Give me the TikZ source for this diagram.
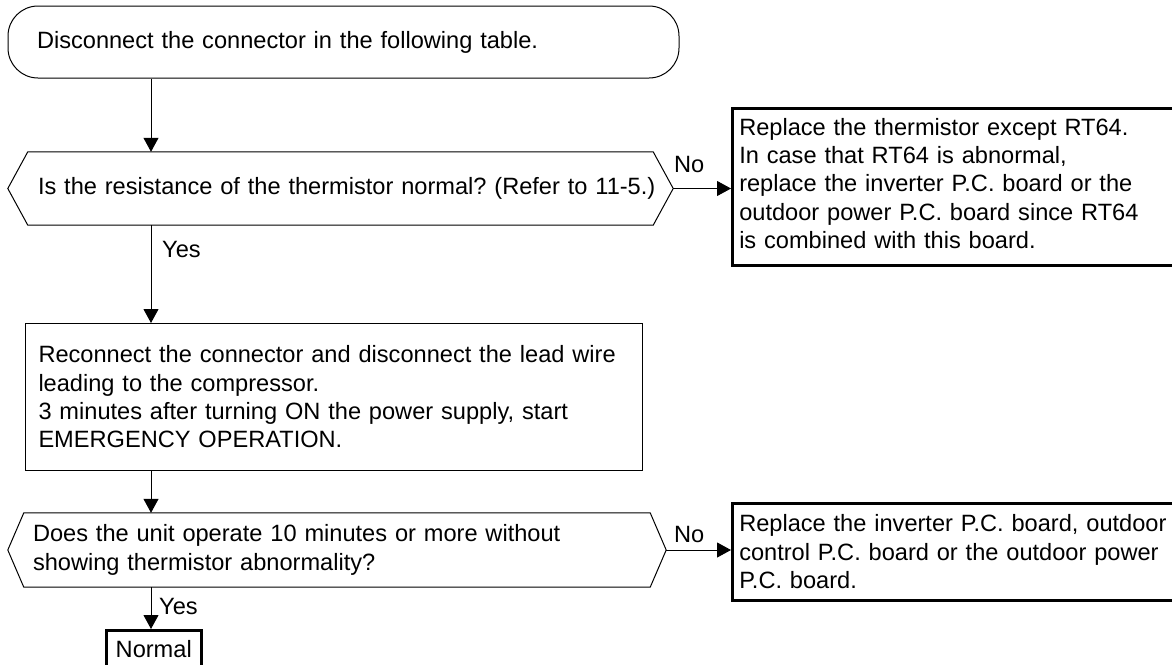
\documentclass[tikz,border=0pt]{standalone}
\usepackage{fontspec}
\setmainfont{Liberation Sans}
\usetikzlibrary{arrows.meta}
\begin{document}
\frenchspacing
\begin{tikzpicture}[x=1pt,y=-1pt,
  every node/.style={font=\fontsize{23.6}{28.3}\selectfont\frenchspacing, inner sep=0pt},
  arr/.style={line width=1pt, -{Triangle[length=14pt,width=15pt]}},
  termbox/.style={draw, line width=1pt, rounded corners=30pt, minimum height=72pt,
    inner xsep=29pt, text width=613pt, align=left},
  decbox/.style={minimum height=73pt, align=left},
  procbox/.style={draw, line width=1pt, anchor=north west, align=left},
  actbox/.style={draw, line width=2.5pt, anchor=north west, inner xsep=7pt,
    text width=470pt, align=left},
  lbl/.style={anchor=base west}
]
\clip (0,0) rectangle (1172,664);
\fill[white] (0,0) rectangle (1172,664);
\coordinate (col) at (151,0);

% start terminator
\node[termbox] (start) at (343.5,42) {Disconnect the connector in the following table.};

% decision 1
\node[decbox, inner xsep=30pt, text width=605pt] (q1) at (340.5,188.5)
  {\mbox{Is the resistance of the thermistor normal? (Refer to 11-5.)}};
\draw[line width=1pt] (q1.west) -- ([xshift=20pt]q1.north west) -- ([xshift=-20pt]q1.north east)
  -- (q1.east) -- ([xshift=-20pt]q1.south east) -- ([xshift=20pt]q1.south west) -- cycle;

% action 1
\node[actbox, minimum height=157pt] (r1) at (731,107)
  {Replace the thermistor except RT64.\\
   In case that RT64 is abnormal,\\
   replace the inverter P.C. board or the\\
   outdoor power P.C. board since RT64\\
   is combined with this board.\rule[-7pt]{0pt}{7pt}};

% process box
\node[procbox, minimum height=147pt, inner xsep=13.5pt, text width=590pt] (p1) at (24.5,323)
  {Reconnect the connector and disconnect the lead wire\\
   leading to the compressor.\\
   3 minutes after turning ON the power supply, start\\
   EMERGENCY OPERATION.};

% decision 2
\node[decbox, minimum height=74pt, inner xsep=25pt, text width=608pt] (q2) at (337,550)
  {Does the unit operate 10 minutes or more without\\
   showing thermistor abnormality?};
\draw[line width=1pt] (q2.west) -- ([xshift=16pt]q2.north west) -- ([xshift=-16pt]q2.north east)
  -- (q2.east) -- ([xshift=-16pt]q2.south east) -- ([xshift=16pt]q2.south west) -- cycle;

% action 2
\node[actbox, minimum height=97pt] (r2) at (731,502)
  {Replace the inverter P.C. board, outdoor\\
   control P.C. board or the outdoor power\\
   P.C. board.};

% normal
\node[draw, line width=2.5pt, anchor=north west, minimum width=95pt, minimum height=37pt] (ok) at (105,629) {Normal};

% connectors
\draw[arr] (start.south -| col) -- (q1.north -| col);
\draw[arr] (q1.east) -- (r1.west |- q1.east);
\draw[arr] (q1.south -| col) -- (p1.north -| col);
\draw[arr] (p1.south -| col) -- (q2.north -| col);
\draw[arr] (q2.east) -- (r2.west |- q2.east);
\draw[arr] (q2.south -| col) -- (ok.north -| col);

% labels
\node[lbl] (no1) at (674,172) {No};
\node[lbl] (yes1) at (162,257) {Yes};
\node[lbl] (no2) at (674,542) {No};
\node[lbl] (yes2) at (159,614) {Yes};
\end{tikzpicture}
\end{document}
